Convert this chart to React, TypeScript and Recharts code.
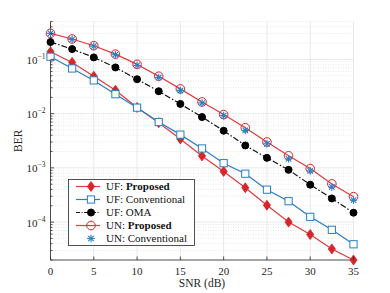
import React from 'react';
import { LineChart, Line, XAxis, YAxis, CartesianGrid, ReferenceLine, Legend } from 'recharts';

const SNR = [0, 2.5, 5, 7.5, 10, 12.5, 15, 17.5, 20, 22.5, 25, 27.5, 30, 32.5, 35];
const UF_PROPOSED = [0.138, 0.088, 0.049, 0.027, 0.013, 0.0068, 0.0034, 0.00166, 0.00086, 0.00043, 0.000205, 0.0001, 0.000059, 0.000032, 0.00002];
const UF_CONVENTIONAL = [0.112, 0.068, 0.041, 0.0228, 0.0129, 0.007, 0.0041, 0.00228, 0.00122, 0.00078, 0.000396, 0.000243, 0.000125, 0.000072, 0.000039];
const UF_OMA = [0.209, 0.155, 0.109, 0.0711, 0.0431, 0.0259, 0.0151, 0.00865, 0.00484, 0.00259, 0.00153, 0.00092, 0.00049, 0.000273, 0.000149];
const UN_PROPOSED = [0.303, 0.238, 0.179, 0.125, 0.081, 0.049, 0.0286, 0.0164, 0.0096, 0.0055, 0.003, 0.00167, 0.00097, 0.000506, 0.000294];
const UN_CONVENTIONAL = [0.303, 0.234, 0.176, 0.122, 0.0774, 0.0464, 0.0267, 0.0157, 0.0092, 0.0049, 0.00278, 0.00147, 0.00088, 0.000445, 0.000255];

const X_TICKS = [0, 5, 10, 15, 20, 25, 30, 35];
const X_DOMAIN = [0, 35];
const Y_DOMAIN = [2e-5, 0.5];
const Y_MAJOR = [1e-4, 1e-3, 1e-2, 1e-1];
const Y_MINOR = [
  2e-5, 3e-5, 4e-5, 5e-5, 6e-5, 7e-5, 8e-5, 9e-5,
  2e-4, 3e-4, 4e-4, 5e-4, 6e-4, 7e-4, 8e-4, 9e-4,
  2e-3, 3e-3, 4e-3, 5e-3, 6e-3, 7e-3, 8e-3, 9e-3,
  2e-2, 3e-2, 4e-2, 5e-2, 6e-2, 7e-2, 8e-2, 9e-2,
  2e-1, 3e-1, 4e-1, 5e-1,
];
const Y_ALL = [...Y_MAJOR, ...Y_MINOR].sort((a, b) => a - b);

const data = SNR.map((s, i) => ({
  snr: s,
  ufP: UF_PROPOSED[i],
  ufC: UF_CONVENTIONAL[i],
  ufO: UF_OMA[i],
  unP: UN_PROPOSED[i],
  unC: UN_CONVENTIONAL[i],
}));

const RED_LINE = '#e03a3e';
const RED = '#d6262c';
const BLUE = '#2a7ec6';
const AXIS = '#262626';
const FONT = 'Liberation Serif, DejaVu Serif, serif';
const TXT = { fontFamily: FONT };

const isMajor = (v: number) => Math.abs(Math.log10(v) - Math.round(Math.log10(v))) < 1e-6;

const Diamond = ({ cx, cy, color }: any) =>
  cx == null || cy == null ? null : (
    <path d={`M${cx},${cy - 5}L${cx + 3.6},${cy}L${cx},${cy + 5}L${cx - 3.6},${cy}Z`} fill={color} stroke={color} strokeWidth={0.8} />
  );
const Square = ({ cx, cy, color }: any) =>
  cx == null || cy == null ? null : (
    <rect x={cx - 3.6} y={cy - 3.6} width={7.2} height={7.2} fill="#ffffff" stroke={color} strokeWidth={1} />
  );
const Dot = ({ cx, cy, color }: any) =>
  cx == null || cy == null ? null : <circle cx={cx} cy={cy} r={3.5} fill={color} stroke={color} />;
const Ring = ({ cx, cy, color }: any) =>
  cx == null || cy == null ? null : <circle cx={cx} cy={cy} r={4.3} fill="none" stroke={color} strokeWidth={1} />;
const Star = ({ cx, cy, color }: any) => {
  if (cx == null || cy == null) return null;
  const r = 3.8;
  const d = r * 0.72;
  return (
    <g stroke={color} strokeWidth={1.1}>
      <line x1={cx - r} y1={cy} x2={cx + r} y2={cy} />
      <line x1={cx} y1={cy - r} x2={cx} y2={cy + r} />
      <line x1={cx - d} y1={cy - d} x2={cx + d} y2={cy + d} />
      <line x1={cx - d} y1={cy + d} x2={cx + d} y2={cy - d} />
    </g>
  );
};

const SERIES = [
  { key: 'ufP', label: 'UF: ', bold: 'Proposed', line: RED_LINE, mark: RED, Marker: Diamond, dash: undefined as string | undefined, showLine: true },
  { key: 'ufC', label: 'UF: Conventional', bold: '', line: BLUE, mark: BLUE, Marker: Square, dash: undefined, showLine: true },
  { key: 'ufO', label: 'UF: OMA', bold: '', line: '#111111', mark: '#000000', Marker: Dot, dash: '6 2 1.5 2', showLine: true },
  { key: 'unP', label: 'UN: ', bold: 'Proposed', line: RED_LINE, mark: RED, Marker: Ring, dash: undefined, showLine: true },
  { key: 'unC', label: 'UN: Conventional', bold: '', line: BLUE, mark: BLUE, Marker: Star, dash: undefined, showLine: false },
];

const BottomTick = (props: any) => {
  const { x, y, payload } = props;
  return (
    <g>
      <line x1={x} y1={y} x2={x} y2={y - 3.5} stroke={AXIS} strokeWidth={0.8} />
      <text x={x} y={y + 14.5} textAnchor="middle" fontSize={11} style={TXT} fill="#262626">
        {payload.value}
      </text>
    </g>
  );
};
const TopTick = (props: any) => {
  const { x, y } = props;
  return <line x1={x} y1={y} x2={x} y2={y + 3.5} stroke={AXIS} strokeWidth={0.8} />;
};
const LeftTick = (props: any) => {
  const { x, y, payload } = props;
  const v = payload.value as number;
  const major = isMajor(v);
  const exp = Math.round(Math.log10(v));
  return (
    <g>
      <line x1={x} y1={y} x2={x + (major ? 3.5 : 2)} y2={y} stroke={AXIS} strokeWidth={0.8} />
      {major && (
        <text x={x - 5} y={y + 4.5} textAnchor="end" fontSize={11} style={TXT} fill="#262626">
          10
          <tspan dy={-5} fontSize={7.5}>{`\u2212${Math.abs(exp)}`}</tspan>
        </text>
      )}
    </g>
  );
};
const RightTick = (props: any) => {
  const { x, y, payload } = props;
  const major = isMajor(payload.value);
  return <line x1={x} y1={y} x2={x - (major ? 3.5 : 2)} y2={y} stroke={AXIS} strokeWidth={0.8} />;
};

const LegendBox = () => (
  <svg width={127} height={67} style={{ display: 'block' }}>
    <rect x={0.5} y={0.5} width={126} height={66} fill="#ffffff" stroke="#262626" strokeWidth={0.8} />
    {SERIES.map((s, i) => {
      const cy = 7.5 + i * 13;
      const M = s.Marker;
      return (
        <g key={s.key}>
          {s.showLine && (
            <line x1={8} y1={cy} x2={32} y2={cy} stroke={s.line} strokeWidth={1.2} strokeDasharray={s.dash ? '4 1.5 1 1.5' : undefined} />
          )}
          <M cx={23} cy={cy} color={s.mark} />
          <text x={38} y={cy + 3.8} fontSize={11} style={TXT} fill="#111111">
            {s.label}
            {s.bold && <tspan fontWeight="bold">{s.bold}</tspan>}
          </text>
        </g>
      );
    })}
  </svg>
);

export default function App() {
  return (
    <div style={{ position: 'absolute', left: 0, top: 0, width: 390, height: 293, background: '#ffffff', fontFamily: FONT }}>
      <LineChart width={390} height={293} data={data} margin={{ top: 21.5, right: 36.5, bottom: 0, left: 0 }} style={TXT}>
        <CartesianGrid horizontal={false} stroke="#e4e4e4" strokeWidth={0.8} />
        {Y_MINOR.map((v) => (
          <ReferenceLine key={`mn${v}`} y={v} stroke="#d9d9d9" strokeWidth={0.6} strokeDasharray="1 1.5" />
        ))}
        {Y_MAJOR.map((v) => (
          <ReferenceLine key={`mj${v}`} y={v} stroke="#e4e4e4" strokeWidth={0.8} />
        ))}
        <XAxis
          dataKey="snr"
          type="number"
          domain={X_DOMAIN}
          ticks={X_TICKS}
          interval={0}
          height={33}
          tickSize={0}
          tickMargin={0}
          tickLine={false}
          tick={<BottomTick />}
          axisLine={{ stroke: AXIS, strokeWidth: 0.8 }}
          label={{ value: 'SNR (dB)', position: 'insideBottom', offset: 6, fontSize: 11.5, fill: '#262626', style: TXT }}
        />
        <XAxis
          xAxisId="top"
          orientation="top"
          dataKey="snr"
          type="number"
          domain={X_DOMAIN}
          ticks={X_TICKS}
          interval={0}
          height={0}
          tickSize={0}
          tickMargin={0}
          tickLine={false}
          tick={<TopTick />}
          axisLine={{ stroke: AXIS, strokeWidth: 0.8 }}
        />
        <YAxis
          scale="log"
          type="number"
          domain={Y_DOMAIN}
          ticks={Y_ALL}
          interval={0}
          width={50.5}
          tickSize={0}
          tickMargin={0}
          tickLine={false}
          tick={<LeftTick />}
          axisLine={{ stroke: AXIS, strokeWidth: 0.8 }}
          label={{ value: 'BER', angle: -90, position: 'insideLeft', offset: 18, fontSize: 11.5, fill: '#262626', style: { textAnchor: 'middle', fontFamily: FONT } }}
        />
        <YAxis
          yAxisId="right"
          orientation="right"
          scale="log"
          type="number"
          domain={Y_DOMAIN}
          ticks={Y_ALL}
          interval={0}
          width={0}
          tickSize={0}
          tickMargin={0}
          tickLine={false}
          tick={<RightTick />}
          axisLine={{ stroke: AXIS, strokeWidth: 0.8 }}
        />
        {SERIES.map((s) => {
          const M = s.Marker;
          return (
            <Line
              key={s.key}
              dataKey={s.key}
              type="linear"
              stroke={s.showLine ? s.line : 'none'}
              strokeWidth={1.2}
              strokeDasharray={s.dash}
              dot={(p: any) => <M key={`${s.key}-${p.index}`} cx={p.cx} cy={p.cy} color={s.mark} />}
              activeDot={false}
              isAnimationActive={false}
            />
          );
        })}
        <Legend
          layout="horizontal"
          verticalAlign="middle"
          align="center"
          content={() => <LegendBox />}
          wrapperStyle={{ left: 68, top: 178.5, width: 127, height: 67 }}
        />
      </LineChart>
    </div>
  );
}
